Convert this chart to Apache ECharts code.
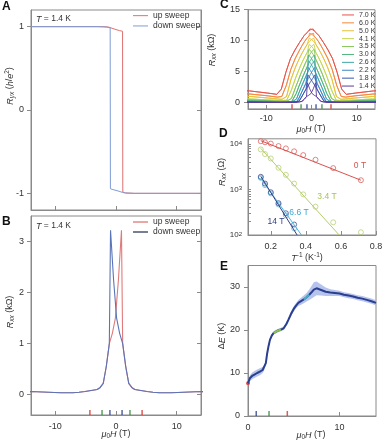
<!DOCTYPE html>
<html><head><meta charset="utf-8">
<script src="https://cdn.jsdelivr.net/npm/echarts@6.0.0/dist/echarts.min.js"></script>
<style>html,body{margin:0;padding:0;background:#fff}#c{width:384px;height:440px}</style>
</head><body><div id="c"></div>
<script>
// ---------- Panel A: Hall resistance (h/e^2) ----------
const upA = [[-14,1],[-2,1],[-1.2,0.995],[-0.9,0.985],[0,0.965],[0.6,0.952],[1.08,0.945],[1.12,-0.985],[1.6,-0.995],[3,-1],[14,-1]];
const downA = [[14,-1],[3,-1],[1.6,-0.997],[1.1,-0.99],[0.5,-0.975],[0,-0.965],[-0.5,-0.955],[-0.92,-0.945],[-0.96,0.985],[-1.5,0.995],[-3,1],[-14,1]];
// ---------- Panel B/C: Rxx (kOhm) bell shapes vs |H - Hc| ----------
const U = [0,0.5,1,1.5,2,2.5,3,3.5,4,5,6,7,8,10,14,16];
const tempNames = ['7.0 K','6.0 K','5.0 K','4.1 K','3.5 K','3.0 K','2.6 K','2.2 K','1.8 K','1.4 K'];
const coercive = [0.35,0.45,0.5,0.55,0.6,0.65,0.7,0.75,0.8,0.9];
const r70 = [11.9,11.8,11.55,11.2,10.8,10.25,9.7,9.1,8.5,7.1,4.9,2.2,1.35,1.55,1.9,1.95];
const r60 = [11.2,11.05,10.75,10.35,9.85,9.25,8.6,7.9,7.2,5.4,2.8,1.0,0.9,1.1,1.4,1.45];
const r50 = [10.4,10.2,9.85,9.35,8.75,8.1,7.4,6.6,5.8,3.8,1.0,0.55,0.6,0.75,1.0,1.05];
const r41 = [9.4,9.15,8.7,8.1,7.45,6.7,5.9,5.0,4.1,2.0,0.4,0.35,0.38,0.45,0.6,0.62];
const r35 = [8.6,8.3,7.75,7.05,6.3,5.45,4.6,3.6,2.7,0.7,0.25,0.22,0.25,0.32,0.45,0.47];
const r30 = [7.7,7.3,6.7,5.95,5.15,4.3,3.4,2.5,1.5,0.2,0.15,0.14,0.16,0.22,0.3,0.31];
const r26 = [6.8,6.35,5.7,4.95,4.15,3.3,2.45,1.55,0.6,0.12,0.1,0.1,0.11,0.15,0.2,0.21];
const r22 = [5.7,5.2,4.55,3.85,3.1,2.35,1.55,0.75,0.2,0.09,0.07,0.07,0.08,0.1,0.15,0.16];
const r18 = [4.5,3.95,3.4,2.8,2.2,1.55,0.9,0.3,0.12,0.07,0.05,0.05,0.05,0.07,0.1,0.11];
const r14 = [3.22,2.25,1.5,1.2,1.0,0.55,0.22,0.14,0.1,0.08,0.06,0.045,0.035,0.035,0.055,0.06];
const cCurves = [r70,r60,r50,r41,r35,r30,r26,r22,r18,r14];
// field markers at the bottom of B, C, E
const markH = [-4.3,-2.3,-1.0,1.0,2.3,4.3];
const markKind = ['r','g','b','b','g','r'];
const eMarkH = [0.9,2.3,4.3];
const eMarkKind = ['b','g','r'];
// ---------- Panel D: Arrhenius ----------
const invT = [0.143,0.167,0.2,0.244,0.286,0.333,0.385,0.455,0.556,0.714];
const r0T = [11500,10900,10200,9000,8000,6900,5700,4500,2950,1600];
const r34T = [7600,6000,4800,3000,2100,1350,780,420,190,115];
const r66T = [1800,1250,820,470,270,140];
const r14T = [1900,1350,870,500,300,170];
const fit0T = [[0.143,11800],[0.714,1600]];
const fit34T = [[0.143,8000],[0.59,100]];
const fit66T = [[0.143,1750],[0.375,100]];
const fit14T = [[0.143,1950],[0.35,100]];
// ---------- Panel E: gap vs field ----------
const eH = [0,0.2,0.5,0.75,1.0,1.3,1.6,1.75,1.95,2.1,2.25,2.4,2.6,2.8,3.0,3.3,3.6,3.9,4.2,4.4,4.7,5.0,5.3,5.5,5.8,6.1,6.4,6.7,7.0,7.2,7.5,8.0,8.5,9.0,9.5,10,10.5,11,11.5,12,12.5,13,13.5,14];
const eVal = [7.6,8.8,9.4,9.7,10.0,10.3,10.7,11.1,12.3,14.6,16.3,17.7,18.7,19.3,19.6,19.9,20.1,20.4,21.4,22.3,23.7,24.9,25.8,26.3,26.7,27.1,27.6,28.2,28.9,29.4,29.7,29.3,28.9,28.7,28.6,28.5,28.2,28.0,27.8,27.5,27.3,27.0,26.7,26.3];
const eErr = [0.6,0.7,0.8,0.8,0.8,0.8,0.7,0.6,0.5,0.4, 0.4,0.4,0.4,0.4,0.4,0.4,0.4,0.4,0.4,0.5, 0.6,0.6,0.6,0.7,0.8,0.9,1.0,1.2,1.5,1.7, 1.6,1.3,1.0,0.8,0.7,0.6,0.6,0.6,0.6,0.6, 0.6,0.6,0.6,0.6];

// ---------- styling ----------
const FF = '"Liberation Sans", Arial, Helvetica, sans-serif';
const AX = '#8a8a8a', TXT = '#333';
const cColors = ['#e8524a','#f5873c','#e6c23a','#c3d64c','#86c65a','#4db47c','#3ea6ac','#3d86c6','#3656b0','#5a3a9c'];
const markColor = {r:'#d8312c', g:'#2e8b3a', b:'#2b3f8f'};
const RICH = {
  i:{fontStyle:'italic', fontSize:9, fontFamily:FF, fill:TXT, color:TXT, lineHeight:12, verticalAlign:'middle'},
  n:{fontSize:9, fontFamily:FF, fill:TXT, color:TXT, lineHeight:12, verticalAlign:'middle'},
  sub:{fontSize:6.5, fontFamily:FF, fill:TXT, color:TXT, lineHeight:6, verticalAlign:'bottom'},
  isub:{fontSize:6.5, fontStyle:'italic', fontFamily:FF, fill:TXT, color:TXT, lineHeight:6, verticalAlign:'bottom'},
  sup:{fontSize:6.5, fontFamily:FF, fill:TXT, color:TXT, lineHeight:6, verticalAlign:'top'}
};

function upSweep(g, c) {
  const pts = [];
  for (let k = U.length - 1; k >= 0; k--) pts.push([c - U[k], g[k]]);
  for (let k = 1; k < U.length; k++) if (U[k] > 2 * c) pts.push([U[k] - c, g[k]]);
  return pts;
}
const mirror = pts => pts.map(p => [-p[0], p[1]]);

function xAxis(gi, min, max, vals, showLabel, margin) {
  return {type:'value', gridIndex:gi, min, max,
    axisLine:{show:true, onZero:false, lineStyle:{color:AX, width:1}},
    axisTick:{show:true, inside:true, length:4, customValues:vals, lineStyle:{color:AX}},
    axisLabel:{show:showLabel, customValues:vals, margin:margin, fontSize:9, fontFamily:FF, color:TXT},
    splitLine:{show:false}};
}
function yAxis(gi, min, max, vals, margin, right) {
  return {type:'value', gridIndex:gi, min, max, position: right ? 'right' : 'left',
    axisLine:{show:true, onZero:false, lineStyle:{color:AX, width:1}},
    axisTick:{show:true, inside:!!right, length:4, customValues:vals, lineStyle:{color:AX}},
    axisLabel:{show:!right, customValues:vals, margin:margin, fontSize:9, fontFamily:FF, color:TXT},
    splitLine:{show:false}};
}
const gridBase = {show:true, borderColor:AX, borderWidth:1, containLabel:false, outerBoundsMode:'none'};

const grids = [
  Object.assign({left:31, top:10, width:170, height:200}, gridBase),
  Object.assign({left:31, top:216, width:170, height:199}, gridBase),
  Object.assign({left:248, top:9.7, width:127, height:99.2}, gridBase),
  Object.assign({left:248, top:138.8, width:128, height:96.2}, gridBase),
  Object.assign({left:248, top:265.5, width:128, height:150.5}, gridBase)
];

const xAxes = [
  xAxis(0, -14, 14, [-10,0,10], false, 7),
  xAxis(1, -14, 14, [-10,0,10], true, 7),
  xAxis(2, -14, 14, [-10,0,10], true, 5),
  Object.assign(xAxis(3, 0.07, 0.8, [0.2,0.4,0.6,0.8], true, 7), {axisLabel:{customValues:[0.2,0.4,0.6,0.8], margin:7, fontSize:9, fontFamily:FF, color:TXT, formatter:v=>v.toFixed(1)}}),
  Object.assign(xAxis(4, 0, 14, [0,10], true, 7), {interval:10})
];
const yAxes = [
  yAxis(0, -1.2, 1.2, [-1,0,1], 7, false),
  yAxis(0, -1.2, 1.2, [-1,0,1], 7, true),
  yAxis(1, -0.4, 3.5, [0,1,2,3], 7, false),
  yAxis(1, -0.4, 3.5, [0,1,2,3], 7, true),
  yAxis(2, -1, 15, [0,5,10,15], 8, false),
  {type:'log', logBase:10, gridIndex:3, min:100, max:13000,
    axisLine:{show:true, onZero:false, lineStyle:{color:AX}},
    axisTick:{show:true, inside:true, length:3, lineStyle:{color:AX},
      customValues:[100,200,300,400,500,600,700,800,900,1000,2000,3000,4000,5000,6000,7000,8000,9000,10000]},
    axisLabel:{customValues:[100,1000,10000], margin:6, fontSize:8, fontFamily:FF, color:TXT,
      formatter:v=>'10{sup|' + Math.round(Math.log10(v)) + '}', rich:{sup:{fontSize:6, color:TXT, fontFamily:FF, lineHeight:6, verticalAlign:'top'}}},
    splitLine:{show:false}},
  Object.assign(yAxis(4, 0, 35, [0,10,20,30], 8, false), {interval:10})
];

const series = [];
// A
series.push({type:'line', name:'up sweep', xAxisIndex:0, yAxisIndex:0, data:upA, symbol:'none', lineStyle:{color:'#e07070', width:1}, itemStyle:{color:'#e07070'}});
series.push({type:'line', name:'down sweep', xAxisIndex:0, yAxisIndex:0, data:downA, symbol:'none', lineStyle:{color:'#7f9dd4', width:1}, itemStyle:{color:'#7f9dd4'}});
// B
const upB = upSweep(r14, coercive[9]);
series.push({type:'line', name:'up sweep', xAxisIndex:1, yAxisIndex:2, data:upB, symbol:'none', lineStyle:{color:'#e07a7a', width:1.1}, itemStyle:{color:'#e07a7a'}});
series.push({type:'line', name:'down sweep', xAxisIndex:1, yAxisIndex:2, data:mirror(upB), symbol:'none', lineStyle:{color:'#5a74b8', width:1.1}, itemStyle:{color:'#5a74b8'}});
series.push({type:'scatter', xAxisIndex:1, yAxisIndex:2, symbol:'rect', symbolSize:[1.5,5], symbolOffset:[0,-2.5], silent:true,
  data: markH.map((h,i)=>({value:[h,-0.4], itemStyle:{color:markColor[markKind[i]]}}))});
// C
cCurves.forEach((g, i) => {
  const up = upSweep(g, coercive[i]);
  [up, mirror(up)].forEach(d => series.push({type:'line', name:tempNames[i], xAxisIndex:2, yAxisIndex:4, data:d, symbol:'none',
    lineStyle:{color:cColors[i], width:0.9}, itemStyle:{color:cColors[i]}}));
});
series.push({type:'scatter', xAxisIndex:2, yAxisIndex:4, symbol:'rect', symbolSize:[1.5,4.5], symbolOffset:[0,-2.3], silent:true,
  data: markH.map((h,i)=>({value:[h,-1], itemStyle:{color:markColor[markKind[i]]}}))});
// D
const dSets = [
  {pts:r0T, fit:fit0T, color:'#d9534f'},
  {pts:r34T, fit:fit34T, color:'#b3cc6a'},
  {pts:r66T, fit:fit66T, color:'#4cb4d8'},
  {pts:r14T, fit:fit14T, color:'#2e3f86'}
];
dSets.forEach(s => {
  series.push({type:'line', xAxisIndex:3, yAxisIndex:5, data:s.fit, symbol:'none', lineStyle:{color:s.color, width:1}});
  series.push({type:'scatter', xAxisIndex:3, yAxisIndex:5, data:s.pts.map((r,i)=>[invT[i], r]), symbol:'circle', symbolSize:5,
    itemStyle:{color:'rgba(255,255,255,0)', borderColor:s.color, borderWidth:0.9}});
});
// E: uncertainty band as one polygon
const eUpper = eH.map((h,i)=>[h, eVal[i] + eErr[i]]);
const eLower = eH.map((h,i)=>[h, eVal[i] - eErr[i]]);
series.push({type:'custom', xAxisIndex:4, yAxisIndex:6, silent:true, data:[[eH[0], eVal[0]]],
  renderItem:(params, api) => {
    const pts = eUpper.map(p => api.coord(p)).concat(eLower.slice().reverse().map(p => api.coord(p)));
    return {type:'polygon', shape:{points:pts}, style:{fill:'#a9b9ea', opacity:0.85}};
  }});
series.push({type:'line', xAxisIndex:4, yAxisIndex:6, data:eH.map((h,i)=>[h, eVal[i]]), symbol:'none', lineStyle:{color:'#2a3f8f', width:2}});
series.push({type:'line', xAxisIndex:4, yAxisIndex:6, data:eH.slice(13,17).map((h,i)=>[h, eVal[13+i]]), symbol:'none', lineStyle:{color:'#8cc04a', width:2}});
series.push({type:'line', xAxisIndex:4, yAxisIndex:6, data:eH.slice(25,28).map((h,i)=>[h, eVal[25+i]]), symbol:'none', lineStyle:{color:'#49a9c4', width:2}});
series.push({type:'scatter', xAxisIndex:4, yAxisIndex:6, data:[[eH[0], eVal[0]]], symbol:'circle', symbolSize:4, itemStyle:{color:'#d8312c'}});
series.push({type:'scatter', xAxisIndex:4, yAxisIndex:6, symbol:'rect', symbolSize:[1.5,5], symbolOffset:[0,-2.5], silent:true,
  data: eMarkH.map((h,i)=>({value:[h,0], itemStyle:{color:markColor[eMarkKind[i]]}}))});

const legendText = {fontSize:8.5, fontFamily:FF, color:TXT, lineHeight:10.3};
const legends = [
  {left:133, top:10.5, orient:'vertical', icon:'rect', itemWidth:15, itemHeight:1, itemGap:0, padding:0, textStyle:legendText,
    data:['up sweep','down sweep']},
  {left:133, top:217, orient:'vertical', icon:'rect', itemWidth:15, itemHeight:1.6, itemGap:0, padding:0, textStyle:Object.assign({}, legendText, {lineHeight:10}),
    data:[{name:'up sweep', itemStyle:{color:'#e99090'}}, {name:'down sweep', itemStyle:{color:'#55607a'}}]},
  {left:342, top:11, orient:'vertical', icon:'rect', itemWidth:12, itemHeight:1, itemGap:0, padding:0,
    textStyle:{fontSize:7, fontFamily:FF, color:TXT, lineHeight:7.9}, data:tempNames}
];

function txt(x, y, text, opts) {
  return Object.assign({type:'text', x, y, silent:true, style:Object.assign({text, rich:RICH, fontSize:9, fontFamily:FF, fill:TXT,
    align:'center', verticalAlign:'middle', lineHeight:12}, opts && opts.style)}, opts && opts.el);
}
const R90 = Math.PI / 2;
const bold = {fontSize:12, fontWeight:'bold', align:'left', verticalAlign:'top', fill:'#111'};
const graphics = [
  txt(2, 1, 'A', {style:bold}),
  txt(2, 216, 'B', {style:bold}),
  txt(220, -1, 'C', {style:bold}),
  txt(219, 128, 'D', {style:bold}),
  txt(220, 261, 'E', {style:bold}),
  txt(36, 19, '{i|T} = 1.4 K', {style:{align:'left', fontSize:8.5}}),
  txt(36, 226, '{i|T} = 1.4 K', {style:{align:'left', fontSize:8.5}}),
  txt(10, 86, '{i|R}{isub|yx} ({i|h}/{i|e}{sup|2})', {el:{rotation:R90}}),
  txt(10, 312, '{i|R}{isub|xx} (kΩ)', {el:{rotation:R90}}),
  txt(116, 434, '{i|μ}{sub|0}{i|H} (T)'),
  txt(212, 50, '{i|R}{isub|xx} (kΩ)', {el:{rotation:R90}}),
  txt(311, 129, '{i|μ}{sub|0}{i|H} (T)'),
  txt(222, 172, '{i|R}{isub|xx} (Ω)', {el:{rotation:R90}}),
  txt(307, 258, '{i|T}{sup|-1} (K{sup|-1})'),
  txt(222, 336, 'Δ{i|E} (K)', {el:{rotation:R90}}),
  txt(311, 435, '{i|μ}{sub|0}{i|H} (T)'),
  txt(360, 166, '0 T', {style:{fill:'#d9534f', fontSize:8.5}}),
  txt(327, 197, '3.4 T', {style:{fill:'#a9c25a', fontSize:8.5}}),
  txt(299, 213, '6.6 T', {style:{fill:'#3aa8d0', fontSize:8.5}}),
  txt(276, 222, '14 T', {style:{fill:'#2e3f86', fontSize:8.5}})
];

const chart = echarts.init(document.getElementById('c'), null, {renderer:'canvas', width:384, height:440});
chart.setOption({
  animation:false, backgroundColor:'#fff',
  grid:grids, xAxis:xAxes, yAxis:yAxes, legend:legends, series, graphic:graphics
});
</script></body></html>
